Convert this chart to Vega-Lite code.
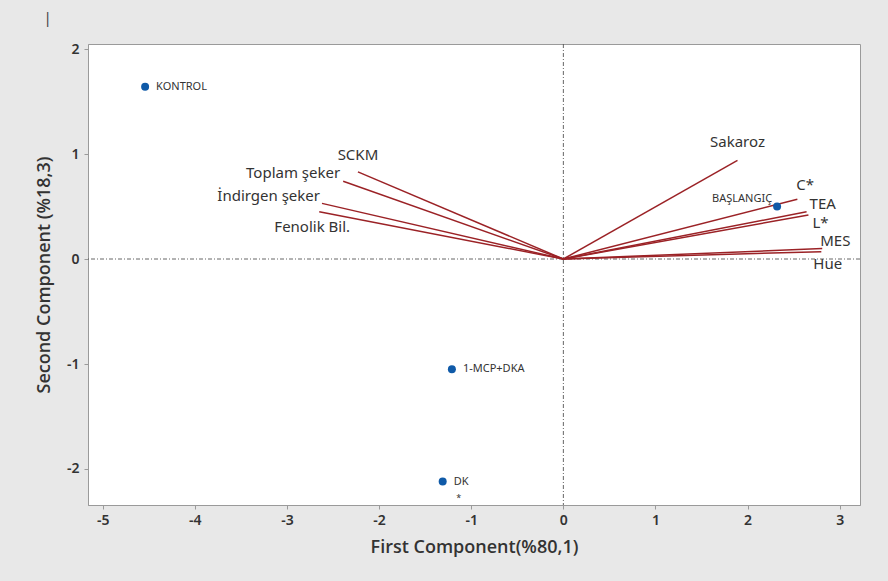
{
  "$schema": "https://vega.github.io/schema/vega-lite/v6.json",
  "width": 772,
  "height": 461,
  "autosize": {"type": "none"},
  "padding": {"left": 88, "top": 44, "right": 28, "bottom": 76},
  "background": "#e8e8e8",
  "title": {"text": "|", "anchor": "start", "frame": "bounds", "orient": "top", "offset": 16, "dx": 8, "fontSize": 15, "fontWeight": "normal", "color": "#444", "font": "Noto Sans"},
  "config": {
    "view": {"stroke": "#9a9a9a", "fill": "white"},
    "axis": {
      "grid": false, "domainColor": "#9a9a9a", "tickColor": "#9a9a9a", "tickSize": 4,
      "labelFont": "Noto Sans", "labelFontSize": 14, "labelColor": "#333", "labelFontWeight": 600,
      "labelExpr": "replace(datum.label, '\u2212', '-')",
      "titleFont": "Open Sans", "titleFontSize": 18, "titleColor": "#333", "titleFontWeight": 600
    },
    "text": {"font": "Noto Sans", "color": "#333"}
  },
  "datasets": {
    "vectors": [
      {"variable": "SCKM", "pc1": -2.23, "pc2": 0.83},
      {"variable": "Toplam şeker", "pc1": -2.39, "pc2": 0.74},
      {"variable": "İndirgen şeker", "pc1": -2.62, "pc2": 0.53},
      {"variable": "Fenolik Bil.", "pc1": -2.65, "pc2": 0.45},
      {"variable": "Sakaroz", "pc1": 1.89, "pc2": 0.94},
      {"variable": "C*", "pc1": 2.54, "pc2": 0.57},
      {"variable": "TEA", "pc1": 2.64, "pc2": 0.45},
      {"variable": "L*", "pc1": 2.66, "pc2": 0.42},
      {"variable": "MES", "pc1": 2.81, "pc2": 0.1},
      {"variable": "Hue", "pc1": 2.8, "pc2": 0.07}
    ],
    "scores": [
      {"group": "KONTROL", "pc1": -4.54, "pc2": 1.64},
      {"group": "1-MCP+DKA", "pc1": -1.21, "pc2": -1.05},
      {"group": "DK", "pc1": -1.31, "pc2": -2.12},
      {"group": "BAŞLANGIÇ", "pc1": 2.32, "pc2": 0.5}
    ]
  },
  "encoding": {
    "x": {"field": "pc1", "type": "quantitative", "scale": {"domain": [-5.16, 3.22], "nice": false, "zero": false},
          "axis": {"values": [-5, -4, -3, -2, -1, 0, 1, 2, 3], "title": "First Component(%80,1)", "labelPadding": 4, "titlePadding": 11}},
    "y": {"field": "pc2", "type": "quantitative", "scale": {"domain": [-2.343, 2.048], "nice": false, "zero": false},
          "axis": {"values": [-2, -1, 0, 1, 2], "title": "Second Component (%18,3)", "labelPadding": 5, "titlePadding": 13}}
  },
  "layer": [
    {"data": {"values": [{"ref": 0}]}, "mark": {"type": "rule", "color": "#555", "strokeWidth": 0.9, "strokeDash": [4, 2, 1, 2]},
     "encoding": {"x": {"field": "ref", "type": "quantitative"}, "y": null}},
    {"data": {"values": [{"ref": 0}]}, "mark": {"type": "rule", "color": "#555", "strokeWidth": 0.9, "strokeDash": [4, 2, 1, 2]},
     "encoding": {"y": {"field": "ref", "type": "quantitative"}, "x": null}},
    {"data": {"name": "vectors"}, "mark": {"type": "rule", "color": "#9b2226", "strokeWidth": 1.5},
     "encoding": {"x": {"datum": 0, "type": "quantitative"}, "y": {"datum": 0, "type": "quantitative"},
                  "x2": {"field": "pc1"}, "y2": {"field": "pc2"}}},
    {"data": {"name": "vectors"}, "transform": [{"filter": "datum.variable === 'SCKM'"}],
     "mark": {"type": "text", "fontSize": 15, "align": "center", "baseline": "middle", "dy": -17}, "encoding": {"text": {"field": "variable"}}},
    {"data": {"name": "vectors"}, "transform": [{"filter": "datum.variable === 'Sakaroz'"}],
     "mark": {"type": "text", "fontSize": 15, "align": "center", "baseline": "middle", "dy": -18}, "encoding": {"text": {"field": "variable"}}},
    {"data": {"name": "vectors"}, "transform": [{"filter": "datum.variable === 'Toplam şeker'"}],
     "mark": {"type": "text", "fontSize": 15, "align": "right", "baseline": "middle", "dx": -3, "dy": -8}, "encoding": {"text": {"field": "variable"}}},
    {"data": {"name": "vectors"}, "transform": [{"filter": "datum.variable === 'İndirgen şeker'"}],
     "mark": {"type": "text", "fontSize": 15, "align": "right", "baseline": "middle", "dx": -2, "dy": -7}, "encoding": {"text": {"field": "variable"}}},
    {"data": {"name": "vectors"}, "transform": [{"filter": "datum.variable === 'Fenolik Bil.'"}],
     "mark": {"type": "text", "fontSize": 15, "align": "center", "baseline": "middle", "dx": -7, "dy": 15}, "encoding": {"text": {"field": "variable"}}},
    {"data": {"name": "vectors"}, "transform": [{"filter": "datum.variable === 'C*'"}],
     "mark": {"type": "text", "fontSize": 15, "align": "left", "baseline": "middle", "dx": -1, "dy": -14}, "encoding": {"text": {"field": "variable"}}},
    {"data": {"name": "vectors"}, "transform": [{"filter": "datum.variable === 'TEA'"}],
     "mark": {"type": "text", "fontSize": 15, "align": "left", "baseline": "middle", "dx": 3, "dy": -8}, "encoding": {"text": {"field": "variable"}}},
    {"data": {"name": "vectors"}, "transform": [{"filter": "datum.variable === 'L*'"}],
     "mark": {"type": "text", "fontSize": 15, "align": "left", "baseline": "middle", "dx": 4, "dy": 8}, "encoding": {"text": {"field": "variable"}}},
    {"data": {"name": "vectors"}, "transform": [{"filter": "datum.variable === 'MES'"}],
     "mark": {"type": "text", "fontSize": 15, "align": "left", "baseline": "middle", "dx": -2, "dy": -8}, "encoding": {"text": {"field": "variable"}}},
    {"data": {"name": "vectors"}, "transform": [{"filter": "datum.variable === 'Hue'"}],
     "mark": {"type": "text", "fontSize": 15, "align": "left", "baseline": "middle", "dx": -8, "dy": 12}, "encoding": {"text": {"field": "variable"}}},
    {"data": {"name": "scores"}, "mark": {"type": "point", "filled": true, "size": 64, "color": "#0f5aa8", "opacity": 1}},
    {"data": {"name": "scores"}, "transform": [{"filter": "datum.group !== 'BAŞLANGIÇ'"}],
     "mark": {"type": "text", "fontSize": 11, "align": "left", "baseline": "middle", "dx": 11}, "encoding": {"text": {"field": "group"}}},
    {"data": {"name": "scores"}, "transform": [{"filter": "datum.group === 'BAŞLANGIÇ'"}],
     "mark": {"type": "text", "fontSize": 11, "align": "right", "baseline": "middle", "dx": -5, "dy": -8}, "encoding": {"text": {"field": "group"}}},
    {"data": {"name": "scores"}, "transform": [{"filter": "datum.group === 'DK'"}],
     "mark": {"type": "text", "fontSize": 9, "align": "center", "baseline": "middle", "dx": 16, "dy": 16, "text": "*"}}
  ]
}
